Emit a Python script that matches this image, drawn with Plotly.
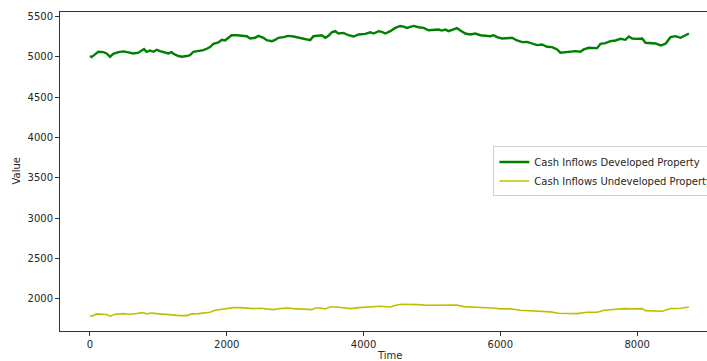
import plotly.graph_objects as go

# ---- data ----
dev_time = [0, 24, 73, 122, 195, 244, 293, 341, 415, 488, 561, 634, 707, 756, 790, 829, 878, 927, 976,
            1024, 1098, 1146, 1195, 1220, 1293, 1341, 1415, 1463, 1512, 1585, 1659, 1707, 1756, 1805,
            1878, 1927, 1976, 2024, 2073, 2146, 2220, 2293, 2341, 2415, 2463, 2537, 2585, 2659, 2707,
            2756, 2829, 2902, 2976, 3049, 3122, 3220, 3268, 3341, 3390, 3439, 3488, 3537, 3585, 3634,
            3707, 3780, 3854, 3927, 4025, 4098, 4147, 4220, 4269, 4317, 4391, 4464, 4537, 4586, 4635,
            4683, 4732, 4805, 4878, 4952, 5025, 5098, 5147, 5196, 5244, 5318, 5366, 5415, 5488, 5561,
            5635, 5708, 5781, 5854, 5903, 5952, 6025, 6098, 6171, 6244, 6318, 6391, 6464, 6537, 6610,
            6683, 6757, 6830, 6878, 6952, 7025, 7098, 7171, 7220, 7293, 7366, 7415, 7464, 7537, 7610,
            7683, 7757, 7830, 7879, 7927, 8000, 8074, 8122, 8196, 8269, 8342, 8415, 8488, 8562, 8635,
            8684, 8757]
dev_value = [5009, 4996, 5029, 5062, 5058, 5041, 5000, 5037, 5058, 5066, 5054, 5041, 5050, 5078, 5095,
             5062, 5078, 5062, 5087, 5070, 5050, 5041, 5058, 5037, 5009, 5000, 5009, 5021, 5062, 5070,
             5083, 5099, 5120, 5161, 5177, 5210, 5202, 5235, 5267, 5267, 5263, 5255, 5226, 5235, 5259,
             5235, 5206, 5193, 5210, 5235, 5243, 5259, 5251, 5235, 5218, 5206, 5255, 5259, 5267, 5235,
             5259, 5304, 5317, 5288, 5296, 5267, 5251, 5276, 5284, 5304, 5288, 5317, 5309, 5288, 5317,
             5358, 5382, 5374, 5358, 5370, 5382, 5366, 5358, 5329, 5329, 5337, 5325, 5337, 5317, 5337,
             5354, 5325, 5288, 5276, 5288, 5267, 5263, 5255, 5267, 5243, 5226, 5226, 5235, 5202, 5181,
             5185, 5169, 5144, 5152, 5124, 5120, 5091, 5050, 5058, 5058, 5070, 5062, 5091, 5111, 5111,
             5107, 5161, 5169, 5194, 5202, 5222, 5210, 5251, 5226, 5222, 5226, 5173, 5169, 5165, 5140,
             5161, 5243, 5255, 5235, 5259, 5288]

undev_time = [0, 24, 98, 195, 244, 293, 366, 488, 585, 683, 780, 829, 902, 976, 1073, 1171, 1244, 1317,
              1415, 1488, 1585, 1683, 1756, 1829, 1902, 2000, 2098, 2195, 2293, 2390, 2488, 2585, 2683,
              2780, 2878, 2976, 3073, 3171, 3244, 3293, 3366, 3439, 3512, 3610, 3707, 3805, 3927, 4098,
              4244, 4391, 4488, 4561, 4683, 4805, 4927, 5074, 5220, 5366, 5464, 5610, 5757, 5879, 6001,
              6147, 6293, 6440, 6586, 6732, 6854, 6976, 7122, 7269, 7415, 7513, 7659, 7805, 7952, 8074,
              8122, 8244, 8366, 8488, 8635, 8757]
undev_value = [1790, 1782, 1811, 1811, 1803, 1782, 1807, 1815, 1807, 1815, 1827, 1811, 1823, 1815, 1807,
               1807, 1799, 1790, 1790, 1811, 1815, 1823, 1832, 1856, 1864, 1873, 1889, 1889, 1881, 1877,
               1881, 1869, 1864, 1877, 1885, 1877, 1873, 1864, 1864, 1885, 1885, 1873, 1897, 1897, 1889,
               1877, 1889, 1897, 1906, 1897, 1922, 1930, 1930, 1926, 1918, 1918, 1914, 1922, 1901, 1897,
               1889, 1885, 1873, 1873, 1856, 1848, 1844, 1836, 1819, 1815, 1815, 1832, 1832, 1856, 1869,
               1877, 1873, 1877, 1852, 1844, 1844, 1877, 1881, 1897]

dev_name = "Cash Inflows Developed Property"
undev_name = "Cash Inflows Undeveloped Property"
x_ticks = [0, 2000, 4000, 6000, 8000]
y_ticks = [2000, 2500, 3000, 3500, 4000, 4500, 5000, 5500]

FONT = "DejaVu Sans"
TXT = "#262626"

fig = go.Figure()
fig.add_trace(go.Scatter(x=dev_time, y=dev_value, mode="lines", name=dev_name,
                         line=dict(color="#008000", width=2.4)))
fig.add_trace(go.Scatter(x=undev_time, y=undev_value, mode="lines", name=undev_name,
                         line=dict(color="#bfbf00", width=1.6)))

# The reference is a cropped figure: the full canvas is wider than the 707px view.
fig.update_layout(
    width=740, height=361,
    margin=dict(l=60, r=21, t=11, b=29),
    paper_bgcolor="white", plot_bgcolor="white",
    font=dict(family=FONT, size=10, color=TXT),
    showlegend=True,
    legend=dict(x=0.6576, y=0.5785, xanchor="left", yanchor="top",
                bgcolor="rgba(255,255,255,0.8)", bordercolor="#d0d0d0", borderwidth=1,
                font=dict(family=FONT, size=10, color=TXT), itemwidth=30,
                tracegroupgap=0),
    xaxis=dict(range=[-438, 9197], tickvals=x_ticks, ticktext=[str(v) for v in x_ticks],
               showgrid=False, zeroline=False, showline=True, linecolor="#333", linewidth=1,
               mirror=True, ticks="outside", ticklen=4, tickcolor="#333", tickwidth=1),
    yaxis=dict(range=[1599, 5555], tickvals=y_ticks, ticktext=[str(v) for v in y_ticks],
               showgrid=False, zeroline=False, showline=True, linecolor="#333", linewidth=1,
               mirror=False, ticks="outside", ticklen=4, tickcolor="#333", tickwidth=1,
               ticklabelstandoff=0),
    annotations=[
        dict(text="Time", xref="x", yref="paper", x=4380, y=0, yshift=-24,
             xanchor="center", yanchor="middle", showarrow=False,
             font=dict(family=FONT, size=10, color=TXT)),
        dict(text="Value", xref="paper", yref="paper", x=0, y=0.5, xshift=-44,
             xanchor="center", yanchor="middle", textangle=-90, showarrow=False,
             font=dict(family=FONT, size=10, color=TXT)),
    ],
)

fig.write_html(
    "out.html",
    config={"displayModeBar": False},
    post_script=(
        "document.body.style.margin='0';"
        "document.body.style.overflow='hidden';"
        "document.documentElement.style.overflow='hidden';"
    ),
)
